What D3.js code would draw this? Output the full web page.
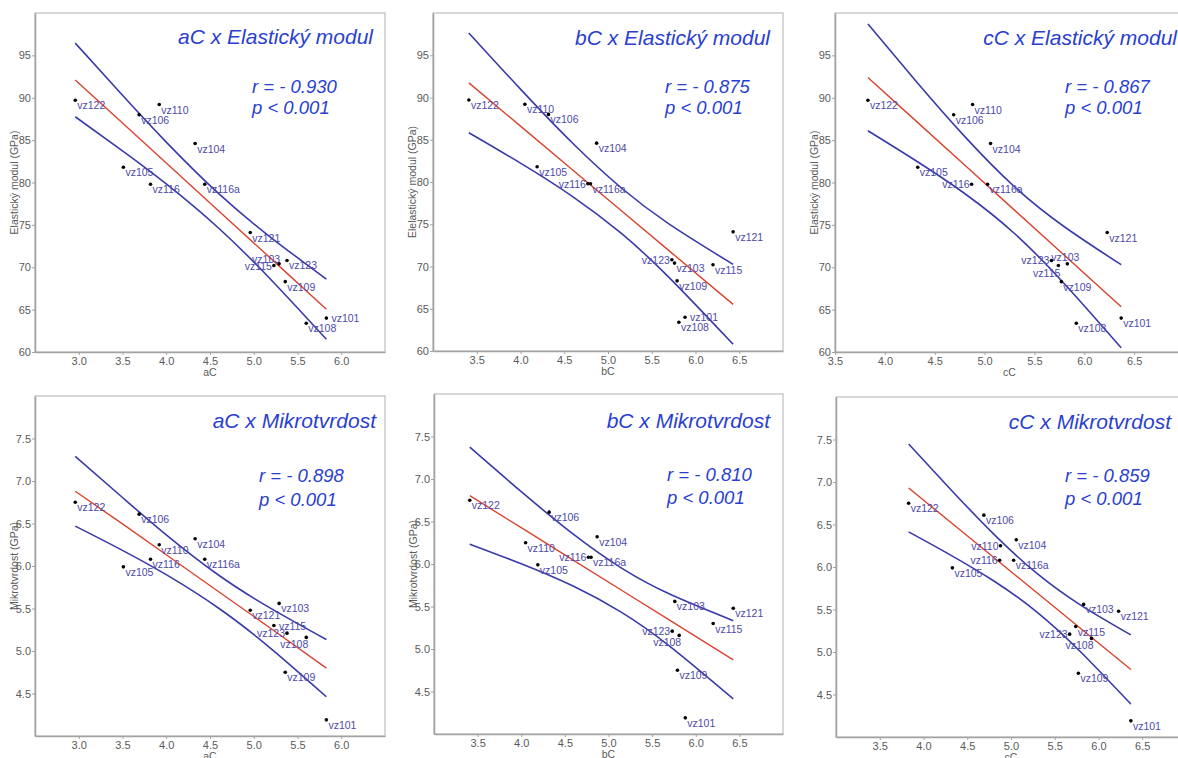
<!DOCTYPE html>
<html>
<head>
<meta charset="utf-8">
<script src="https://cdn.jsdelivr.net/npm/d3@7"></script>
<style>
  html, body { margin: 0; padding: 0; background: #fff; }
  svg { display: block; font-family: "Liberation Sans", Arial, sans-serif; }
</style>
</head>
<body>
<svg id="chart" width="1178" height="758"></svg>
<script>
// ---------------- data ----------------
const samples = ["vz101","vz103","vz104","vz105","vz106","vz108","vz109","vz110","vz115","vz116","vz116a","vz121","vz122","vz123"];
const aC = [5.83, 5.29, 4.33, 3.51, 3.69, 5.60, 5.36, 3.92, 5.23, 3.82, 4.44, 4.96, 2.96, 5.38];
const bC = [5.88, 5.76, 4.87, 4.19, 4.32, 5.81, 5.79, 4.05, 6.20, 4.77, 4.80, 6.43, 3.41, 5.73];
const cC = [6.37, 5.83, 5.06, 4.33, 4.69, 5.92, 5.77, 4.88, 5.74, 4.87, 5.03, 6.23, 3.83, 5.67];
const elastickyModul = [64.0, 70.4, 84.6, 81.8, 88.0, 63.4, 68.3, 89.2, 70.2, 79.8, 79.8, 74.1, 89.7, 70.8];
const mikrotvrdost = [4.19, 5.56, 6.32, 5.99, 6.61, 5.16, 4.75, 6.25, 5.30, 6.08, 6.08, 5.48, 6.75, 5.21];

// fitted line + confidence band values read at a few x positions
const fitX_aC = [2.96, 3.5, 4.0, 4.6, 5.2, 5.83];
const fitX_bC = [3.41, 4.0, 4.6, 5.15, 5.7, 6.43];
const fitX_cC = [3.83, 4.3, 4.8, 5.3, 5.8, 6.37];

const aC_E_fit = [92.10, 87.01, 82.30, 76.64, 70.99, 65.05];
const aC_E_hi  = [96.44, 90.29, 84.77, 78.68, 73.48, 68.60];
const aC_E_lo  = [87.76, 83.73, 79.83, 74.60, 68.50, 61.50];
const bC_E_fit = [91.73, 86.61, 81.40, 76.63, 71.85, 65.52];
const bC_E_hi  = [97.63, 90.99, 84.55, 79.32, 75.02, 70.25];
const bC_E_lo  = [85.83, 82.23, 78.25, 73.94, 68.68, 60.79];
const cC_E_fit = [92.40, 87.39, 82.07, 76.74, 71.42, 65.34];
const cC_E_hi  = [98.70, 92.13, 85.44, 79.50, 74.78, 70.30];
const cC_E_lo  = [86.10, 82.65, 78.70, 73.98, 68.06, 60.50];

const aC_H_fit = [6.879, 6.495, 6.132, 5.697, 5.262, 4.798];
const aC_H_hi  = [7.289, 6.806, 6.366, 5.891, 5.498, 5.134];
const aC_H_lo  = [6.469, 6.184, 5.898, 5.503, 5.026, 4.462];
const bC_H_fit = [6.804, 6.427, 6.043, 5.691, 5.340, 4.873];
const bC_H_hi  = [7.374, 6.851, 6.348, 5.951, 5.646, 5.333];
const bC_H_lo  = [6.234, 6.003, 5.738, 5.431, 5.034, 4.413];
const cC_H_fit = [6.930, 6.535, 6.114, 5.694, 5.273, 4.794];
const cC_H_hi  = [7.447, 6.924, 6.390, 5.921, 5.549, 5.201];
const cC_H_lo  = [6.413, 6.146, 5.838, 5.467, 4.997, 4.387];

const titles = ["aC x Elastický modul", "bC x Elastický modul", "cC x Elastický modul",
                "aC x Mikrotvrdost", "bC x Mikrotvrdost", "cC x Mikrotvrdost"];
const rTexts = ["r = - 0.930", "r = - 0.875", "r = - 0.867", "r = - 0.898", "r = - 0.810", "r = - 0.859"];
const pTexts = ["p < 0.001", "p < 0.001", "p < 0.001", "p < 0.001", "p < 0.001", "p < 0.001"];
const xNames = ["aC", "bC", "cC", "aC", "bC", "cC"];
const yNames = ["Elastický modul (GPa)", "Elelastický modul (GPa)", "Elastický modul (GPa)",
                "Mikrotvrdost (GPa)", "Mikrotvrdost (GPa)", "Mikrotvrdost (GPa)"];
const xTicksAB = [3.0, 3.5, 4.0, 4.5, 5.0, 5.5, 6.0];
const xTicksBC = [3.5, 4.0, 4.5, 5.0, 5.5, 6.0, 6.5];
const yTicksE = [60, 65, 70, 75, 80, 85, 90, 95];
const yTicksH = [4.5, 5.0, 5.5, 6.0, 6.5, 7.0, 7.5];

// ---------------- layout / style ----------------
const layout = [
  {l: 35,  t: 13,  r: 385,  b: 352, xd: [2.5, 6.5], yd: [60, 100], titleDx: -12, titleDy: 31, rDx: 217, rDy: 80, pDy: 101},
  {l: 433, t: 13,  r: 783,  b: 351, xd: [3.0, 7.0], yd: [60, 100], titleDx: -13, titleDy: 32, rDx: 232, rDy: 80, pDy: 101},
  {l: 835, t: 13,  r: 1184, b: 352, xd: [3.5, 7.0], yd: [60, 100], titleDx: -7,  titleDy: 32, rDx: 230, rDy: 80, pDy: 101},
  {l: 35,  t: 396, r: 385,  b: 736, xd: [2.5, 6.5], yd: [4, 8],    titleDx: -9,  titleDy: 32, rDx: 224, rDy: 86, pDy: 110},
  {l: 434, t: 394, r: 783,  b: 734, xd: [3.0, 7.0], yd: [4, 8],    titleDx: -13, titleDy: 34, rDx: 233, rDy: 87, pDy: 110},
  {l: 836, t: 397, r: 1186, b: 737, xd: [3.0, 7.0], yd: [4, 8],    titleDx: -15, titleDy: 32, rDx: 229, rDy: 85, pDy: 108}
];
const labelModes = [
  {vz103: "al", vz115: "l", vz101: "r"},
  {vz116: "l", vz123: "l", vz101: "r"},
  {vz116: "l", vz123: "l", vz103: "a", vz115: "bl"},
  {vz123: "l", vz108: "bl", vz115: "r"},
  {vz116: "l", vz123: "l", vz108: "bl"},
  {vz110: "l", vz116: "l", vz123: "l", vz108: "bl"}
];
const modeOffsets = {
  br: {anchor: "start",  dx: 2,  dy: 9},
  r:  {anchor: "start",  dx: 5,  dy: 4},
  l:  {anchor: "end",    dx: -2, dy: 4},
  bl: {anchor: "end",    dx: 2,  dy: 11},
  al: {anchor: "end",    dx: 1,  dy: -1},
  a:  {anchor: "middle", dx: -2, dy: -3}
};

const panelData = [
  {xs: aC, ys: elastickyModul, fx: fitX_aC, fit: aC_E_fit, hi: aC_E_hi, lo: aC_E_lo, xt: xTicksAB, yt: yTicksE, yf: d3.format("d")},
  {xs: bC, ys: elastickyModul, fx: fitX_bC, fit: bC_E_fit, hi: bC_E_hi, lo: bC_E_lo, xt: xTicksBC, yt: yTicksE, yf: d3.format("d")},
  {xs: cC, ys: elastickyModul, fx: fitX_cC, fit: cC_E_fit, hi: cC_E_hi, lo: cC_E_lo, xt: xTicksBC, yt: yTicksE, yf: d3.format("d")},
  {xs: aC, ys: mikrotvrdost,   fx: fitX_aC, fit: aC_H_fit, hi: aC_H_hi, lo: aC_H_lo, xt: xTicksAB, yt: yTicksH, yf: d3.format(".1f")},
  {xs: bC, ys: mikrotvrdost,   fx: fitX_bC, fit: bC_H_fit, hi: bC_H_hi, lo: bC_H_lo, xt: xTicksBC, yt: yTicksH, yf: d3.format(".1f")},
  {xs: cC, ys: mikrotvrdost,   fx: fitX_cC, fit: cC_H_fit, hi: cC_H_hi, lo: cC_H_lo, xt: xTicksBC, yt: yTicksH, yf: d3.format(".1f")}
];

const COL_BAND = "#3a3aa8";
const COL_FIT = "#d9432f";
const COL_TITLE = "#2a3fd0";
const COL_LABEL = "#4d4aa8";
const COL_AXIS = "#a3a3a3";
const COL_TICKTXT = "#5a5a5a";

const svg = d3.select("#chart");
svg.append("rect").attr("width", 1178).attr("height", 758).attr("fill", "#fff");
const defs = svg.append("defs");
defs.append("clipPath").attr("id", "clip6")
  .append("rect").attr("x", 816).attr("y", 380).attr("width", 8).attr("height", 378);

layout.forEach((L, i) => {
  const D = panelData[i];
  const x = d3.scaleLinear().domain(L.xd).range([L.l, L.r]);
  const y = d3.scaleLinear().domain(L.yd).range([L.b, L.t]);
  const g = svg.append("g");

  // frame
  g.append("rect").attr("x", L.l).attr("y", L.t).attr("width", L.r - L.l).attr("height", L.b - L.t)
    .attr("fill", "none").attr("stroke", "#b0b0b0").attr("stroke-width", 1);

  // axes
  const xAxis = d3.axisBottom(x).tickValues(D.xt).tickFormat(d3.format(".1f")).tickSizeInner(3).tickSizeOuter(0).tickPadding(2);
  const yAxis = d3.axisLeft(y).tickValues(D.yt).tickFormat(D.yf).tickSizeInner(3).tickSizeOuter(0).tickPadding(1);
  const gx = g.append("g").attr("transform", `translate(0,${L.b})`).call(xAxis);
  const gy = g.append("g").attr("transform", `translate(${L.l},0)`).call(yAxis);
  [gx, gy].forEach(a => {
    a.select(".domain").attr("stroke", COL_AXIS).attr("stroke-width", 1.6);
    a.selectAll(".tick line").attr("stroke", COL_AXIS).attr("stroke-width", 1);
    a.selectAll(".tick text").attr("fill", COL_TICKTXT).attr("font-size", 11)
      .attr("font-family", "'Liberation Sans', Arial, sans-serif");
  });

  // axis titles
  g.append("text").attr("x", (L.l + L.r) / 2).attr("y", L.b + 24)
    .attr("text-anchor", "middle").attr("font-size", 10.5).attr("fill", COL_TICKTXT).text(xNames[i]);
  const yl = g.append("text")
    .attr("transform", `translate(${L.l - 17},${(L.t + L.b) / 2}) rotate(-90)`)
    .attr("text-anchor", "middle").attr("font-size", 10.5).attr("fill", COL_TICKTXT).text(yNames[i]);
  if (i === 5) yl.attr("clip-path", "url(#clip6)").attr("opacity", 0.6);

  // bands and fit
  const pts = arr => D.fx.map((v, k) => [v, arr[k]]);
  const smooth = d3.line().x(d => x(d[0])).y(d => y(d[1])).curve(d3.curveNatural);
  const straight = d3.line().x(d => x(d[0])).y(d => y(d[1]));
  g.append("path").attr("d", smooth(pts(D.hi))).attr("fill", "none").attr("stroke", COL_BAND).attr("stroke-width", 1.6);
  g.append("path").attr("d", smooth(pts(D.lo))).attr("fill", "none").attr("stroke", COL_BAND).attr("stroke-width", 1.6);
  g.append("path").attr("d", straight(pts(D.fit))).attr("fill", "none").attr("stroke", COL_FIT).attr("stroke-width", 1.4);

  // labels
  samples.forEach((s, k) => {
    const m = modeOffsets[labelModes[i][s] || "br"];
    g.append("text")
      .attr("x", x(D.xs[k]) + m.dx).attr("y", y(D.ys[k]) + m.dy)
      .attr("text-anchor", m.anchor).attr("font-size", 10.5).attr("fill", COL_LABEL)
      .text(s);
  });
  // points
  samples.forEach((s, k) => {
    g.append("circle").attr("cx", x(D.xs[k])).attr("cy", y(D.ys[k])).attr("r", 1.8).attr("fill", "#000");
  });

  // title and statistics
  g.append("text").attr("x", L.r + L.titleDx).attr("y", L.t + L.titleDy)
    .attr("text-anchor", "end").attr("font-size", 21).attr("font-style", "italic")
    .attr("fill", COL_TITLE).text(titles[i]);
  g.append("text").attr("x", L.l + L.rDx).attr("y", L.t + L.rDy)
    .attr("font-size", 18.5).attr("font-style", "italic").attr("fill", COL_TITLE).text(rTexts[i]);
  g.append("text").attr("x", L.l + L.rDx).attr("y", L.t + L.pDy)
    .attr("font-size", 18.5).attr("font-style", "italic").attr("fill", COL_TITLE).text(pTexts[i]);
});
</script>
</body>
</html>
